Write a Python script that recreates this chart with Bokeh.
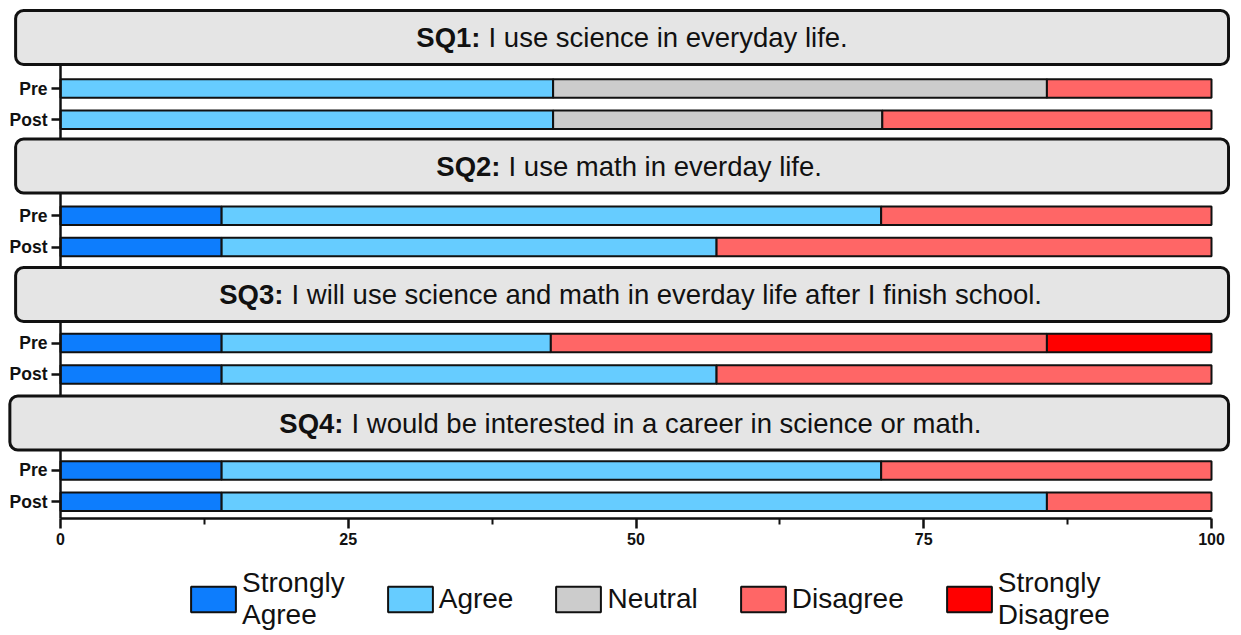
from bokeh.plotting import figure
from bokeh.models import (ColumnDataSource, Range1d, FixedTicker, BoxAnnotation,
                          Legend, LegendItem)
from bokeh.core.properties import value
from bokeh.embed import file_html
from bokeh.resources import INLINE

# ---------------- data ----------------
question_ids = ["SQ1:", "SQ2:", "SQ3:", "SQ4:"]
question_texts = [
    "I use science in everyday life.",
    "I use math in everday life.",
    "I will use science and math in everday life after I finish school.",
    "I would be interested in a career in science or math.",
]
timepoints = ["Pre", "Post"]
categories = ["Strongly Agree", "Agree", "Neutral", "Disagree", "Strongly Disagree"]
legend_labels = ["Strongly\nAgree", "Agree", "Neutral", "Disagree", "Strongly\nDisagree"]
colors = ["#0d7dfd", "#66ccff", "#cccccc", "#ff6666", "#ff0000"]

# percent of responses, one value per question (SQ1..SQ4)
strongly_agree_pre = [0.0, 14.0, 14.0, 14.0]
strongly_agree_post = [0.0, 14.0, 14.0, 14.0]
agree_pre = [42.8, 57.3, 28.6, 57.3]
agree_post = [42.8, 43.0, 43.0, 71.7]
neutral_pre = [42.9, 0.0, 0.0, 0.0]
neutral_post = [28.6, 0.0, 0.0, 0.0]
disagree_pre = [14.3, 28.7, 43.1, 28.7]
disagree_post = [28.6, 43.0, 43.0, 14.3]
strongly_disagree_pre = [0.0, 0.0, 14.3, 0.0]
strongly_disagree_post = [0.0, 0.0, 0.0, 0.0]

x_ticks = [0, 25, 50, 75, 100]
x_minor_ticks = [12.5, 37.5, 62.5, 87.5]

# ---------------- layout ----------------
W, H = 1241, 635
PX0, PX100 = 60.0, 1211.0          # where 0 and 100 sit on the canvas
UNIT = (PX100 - PX0) / 100.0
X_START = -PX0 / UNIT
X_END = 100.0 + (W - PX100) / UNIT
AXIS_Y = 518.0
FIRST_PRE = 88.0
PITCH = 127.3
POST_GAP = 31.3
BAR_H = 18.5
BOX_FIRST = 37.0
BOX_PITCH = 128.5
BOX_H = 54.0
BOX_LEFT = [-3.9, -3.9, -3.9, -4.4]
BOX_RIGHT = 101.48
TITLE_SPLIT = [36.49, 38.23, 19.37, 24.59]   # x where the bold id ends
TITLE_GAP = 0.7

series = {
    "Strongly Agree": (strongly_agree_pre, strongly_agree_post),
    "Agree": (agree_pre, agree_post),
    "Neutral": (neutral_pre, neutral_post),
    "Disagree": (disagree_pre, disagree_post),
    "Strongly Disagree": (strongly_disagree_pre, strongly_disagree_post),
}

pre_y = [FIRST_PRE + i * PITCH for i in range(len(question_ids))]
post_y = [y + POST_GAP for y in pre_y]
box_centers = [BOX_FIRST + i * BOX_PITCH for i in range(len(question_ids))]

p = figure(width=W, height=H, output_backend="svg", toolbar_location=None,
           x_range=Range1d(X_START, X_END), y_range=Range1d(H, 0),
           min_border_left=0, min_border_right=0, min_border_top=0,
           min_border_bottom=0)
p.outline_line_color = None
p.xgrid.visible = False
p.ygrid.visible = False
p.background_fill_color = "white"
p.border_fill_color = "white"

# stacked bars
left_pre = [0.0] * len(question_ids)
left_post = [0.0] * len(question_ids)
renderers = []
for cat, col in zip(categories, colors):
    pre_vals, post_vals = series[cat]
    ys, ls, rs = [], [], []
    for i in range(len(question_ids)):
        for vals, lefts, yy in ((pre_vals, left_pre, pre_y), (post_vals, left_post, post_y)):
            v = vals[i]
            if v > 0:
                ys.append(yy[i])
                ls.append(lefts[i])
                rs.append(lefts[i] + v)
            lefts[i] += v
    src = ColumnDataSource(dict(y=ys, left=ls, right=rs))
    r = p.hbar(y="y", left="left", right="right", height=BAR_H, source=src,
               fill_color=col, line_color="#111111", line_width=2)
    renderers.append(r)

# title boxes
for i in range(len(question_ids)):
    c = box_centers[i]
    box = BoxAnnotation(left=BOX_LEFT[i], right=BOX_RIGHT, top=c - BOX_H / 2,
                        bottom=c + BOX_H / 2, fill_color="#e5e5e5", fill_alpha=1.0,
                        line_color="#111111", line_width=3, line_alpha=1.0,
                        border_radius=8, level="annotation")
    p.add_layout(box)

tsrc_bold = ColumnDataSource(dict(x=TITLE_SPLIT, y=box_centers, t=question_ids))
tsrc_norm = ColumnDataSource(dict(x=[s + TITLE_GAP for s in TITLE_SPLIT], y=box_centers, t=question_texts))
p.text(x="x", y="y", text="t", source=tsrc_bold, text_align="right", text_baseline="middle",
       text_font=value("Liberation Sans"), text_font_style="bold", text_font_size="27.5px",
       text_color="#111111", level="overlay")
p.text(x="x", y="y", text="t", source=tsrc_norm, text_align="left", text_baseline="middle",
       text_font=value("Liberation Sans"), text_font_style="normal", text_font_size="27.5px",
       text_color="#111111", level="overlay")

# axes
xa = p.xaxis[0]
xa.fixed_location = AXIS_Y
xa.bounds = (0, 100)
xa.ticker = FixedTicker(ticks=x_ticks, minor_ticks=x_minor_ticks)
xa.axis_line_width = 2.5
xa.axis_line_color = "#111111"
xa.major_tick_line_width = 2.5
xa.major_tick_line_color = "#111111"
xa.major_tick_out = 10
xa.major_tick_in = 0
xa.minor_tick_line_width = 2
xa.minor_tick_line_color = "#111111"
xa.minor_tick_out = 6
xa.minor_tick_in = 0
xa.major_label_text_font = "Liberation Sans"
xa.major_label_text_font_style = "bold"
xa.major_label_text_font_size = "16px"
xa.major_label_text_color = "#111111"
xa.major_label_standoff = 4

ya = p.yaxis[0]
ya.fixed_location = 0
ya_ticks = []
overrides = {}
for a, b in zip(pre_y, post_y):
    ya_ticks += [a, b]
    overrides[a] = timepoints[0]
    overrides[b] = timepoints[1]
ya.ticker = FixedTicker(ticks=ya_ticks, minor_ticks=[])
ya.major_label_overrides = overrides
ya.bounds = (60, AXIS_Y)
ya.axis_line_width = 2.5
ya.axis_line_color = "#111111"
ya.major_tick_line_width = 2.5
ya.major_tick_line_color = "#111111"
ya.major_tick_out = 9
ya.major_tick_in = 0
ya.minor_tick_out = 0
ya.minor_tick_in = 0
ya.major_label_text_font = "Liberation Sans"
ya.major_label_text_font_style = "bold"
ya.major_label_text_font_size = "17.5px"
ya.major_label_text_color = "#111111"
ya.major_label_standoff = 4

legend = Legend(items=[LegendItem(label=value(lab), renderers=[r])
                       for lab, r in zip(legend_labels, renderers)],
                orientation="horizontal", location=(185, 4),
                glyph_width=56, glyph_height=32, label_standoff=1, spacing=37,
                padding=0, margin=0, border_line_color=None,
                background_fill_alpha=0, label_text_font="Liberation Sans",
                label_text_font_size="28px", label_text_color="#111111",
                label_text_align="center")
p.add_layout(legend, "center")

open("out.html", "w").write(file_html(p, INLINE))
